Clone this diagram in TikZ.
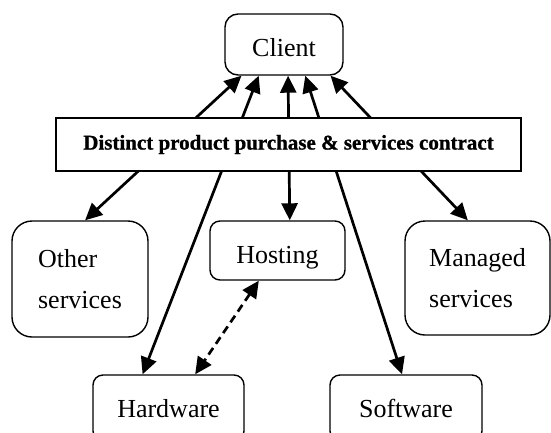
\documentclass[tikz,border=0pt]{standalone}
\usepackage{fontspec}
\setmainfont{Liberation Serif}
\newfontfamily\barfont[FakeBold=1]{Liberation Serif Bold}
\usetikzlibrary{arrows.meta,calc}

\tikzset{
  box/.style={draw, line width=1.4pt, rounded corners=#1, inner sep=0pt,
    font=\fontsize{26}{41}\selectfont},
  box/.default=11pt,
  oneline/.style={text height=#1, text depth=0pt},
  contract/.style={draw, line width=1.4pt, fill=white, inner sep=0pt,
    minimum width=465pt, minimum height=53pt,
    font=\barfont\fontsize{21}{25}\selectfont},
  link/.style={line width=2.7pt,
    {Triangle[length=17pt,width=16pt]}-{Triangle[length=17pt,width=16pt]}},
  peer/.style={link, dash pattern=on 8pt off 5pt}
}

\begin{document}
\begin{tikzpicture}[x=1pt,y=-1pt]
  \useasboundingbox (0,0) rectangle (551,432);
  \clip (0,0) rectangle (551,432);

  % boxes
  \node[box=13pt, oneline=24pt, minimum width=118pt, minimum height=61pt] (client) at (284,44.5) {Client};
  \node[box=20pt, minimum width=136pt, minimum height=116pt, align=left] (other) at (80,279) {Other\\services};
  \node[box=20pt, minimum width=145pt, minimum height=114pt, align=left] (managed) at (477.5,278) {Managed\\services};
  \node[box=10pt, oneline=26pt, minimum width=135pt, minimum height=59pt] (hosting) at (277.5,250.5) {Hosting};
  \node[box=10pt, oneline=18pt, minimum width=151pt, minimum height=66pt] (hardware) at (168.5,408) {Hardware};
  \node[box=10pt, oneline=18pt, minimum width=152pt, minimum height=66pt] (software) at (406,408) {Software};

  % attachment points on the client box
  \coordinate (c1) at ($(client.south west)!0.144!(client.south east)$);
  \coordinate (c2) at ($(client.south west)!0.288!(client.south east)$);
  \coordinate (c3) at ($(client.south west)!0.534!(client.south east)$);
  \coordinate (c4) at ($(client.south west)!0.678!(client.south east)$);
  \coordinate (c5) at ($(client.south west)!0.890!(client.south east)$);

  % attachment points on the product and service boxes
  \coordinate (o1) at ($(other.north west)!0.537!(other.north east)$);
  \coordinate (h1) at ($(hardware.north west)!0.330!(hardware.north east)$);
  \coordinate (h2) at ($(hardware.north west)!0.675!(hardware.north east)$);
  \coordinate (g1) at ($(hosting.north west)!0.590!(hosting.north east)$);
  \coordinate (g2) at ($(hosting.south west)!0.363!(hosting.south east)$);
  \coordinate (s1) at ($(software.north west)!0.474!(software.north east)$);
  \coordinate (m1) at ($(managed.north west)!0.434!(managed.north east)$);

  % client links
  \draw[link] (c1) -- (o1);
  \draw[link] (c2) -- (h1);
  \draw[link] (c3) -- (g1);
  \draw[link] (c4) -- (s1);
  \draw[link] (c5) -- (m1);

  % hosting and hardware
  \draw[peer] (g2) -- (h2);

  % contract bar over the links
  \node[contract] (bar) at (288.5,144.5) {Distinct product purchase \& services contract};
\end{tikzpicture}
\end{document}
